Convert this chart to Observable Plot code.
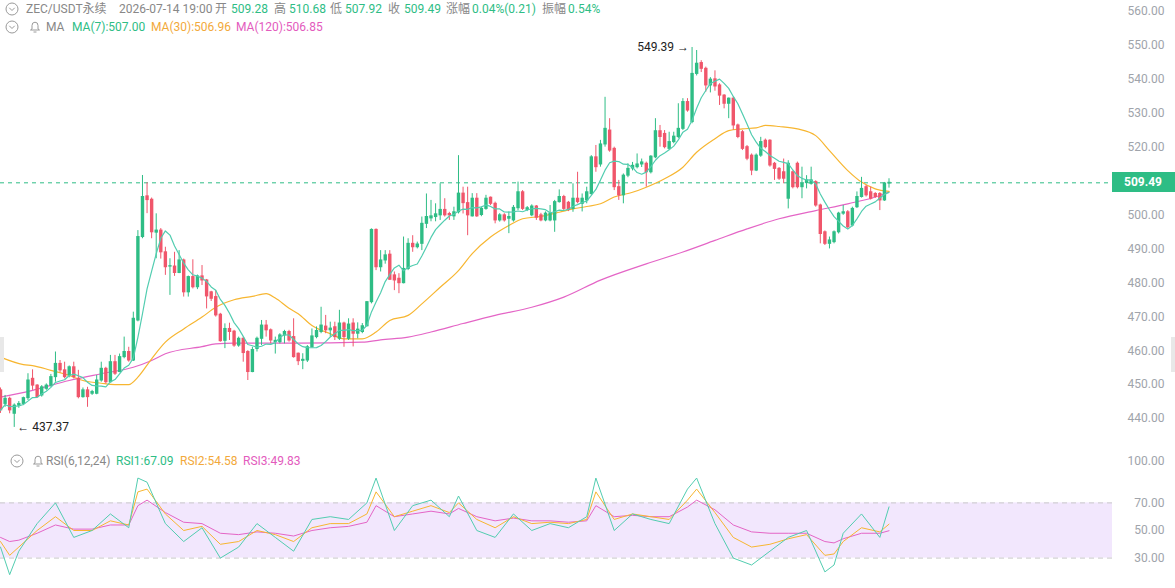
<!DOCTYPE html>
<html><head><meta charset="utf-8">
<script src="https://cdn.jsdelivr.net/npm/d3@7"></script>
<script src="https://cdn.jsdelivr.net/npm/@observablehq/plot@0.6"></script>
<style>
body{margin:0;background:#fff;font-family:Roboto,"Noto Sans CJK SC",sans-serif;}
#wrap{position:relative;width:1175px;height:588px;overflow:hidden;background:#fff;}
.pane{position:absolute;left:0;}
.t{position:absolute;font-size:12px;line-height:14px;white-space:nowrap;color:#888;}
.g{color:#2ebd85}.o{color:#f2a93b}.p{color:#e35bbd}
.ic{position:absolute}
</style></head><body>
<div id="wrap">
  <div id="price" class="pane" style="top:0"></div>
  <div id="rsi" class="pane" style="top:445px"></div>
</div>
<script>
// ---------- DATA ----------
const O=[448.3,444.3,445.8,441.4,443.8,444.3,446.0,451.7,449.7,446.8,448.75,449.7,452.2,456.1,454.2,452.7,455.1,451.7,446.3,448.3,447.3,447.3,451.2,454.65,450.7,456.6,453.7,458.1,459.6,457.1,468.9,493.5,505.5,504.5,494.8,495.4,489.0,484.8,484.8,482.9,486.6,477.2,481.7,478.7,481.9,480.7,477.2,475.8,470.6,462.9,466.4,465.6,461.5,463.5,459.6,453.7,460.5,463.5,467.4,466.0,462.5,462.5,464.5,465.5,464.0,459.1,457.0,457.1,461.0,464.0,465.5,467.1,466.0,466.9,463.5,468.0,463.5,468.0,465.0,465.5,467.2,474.3,495.6,484.6,486.6,488.3,482.2,481.2,479.9,484.1,491.5,490.5,491.5,497.4,499.0,499.4,499.9,501.5,500.3,499.6,500.8,506.3,503.5,499.6,504.8,500.0,501.8,505.1,503.3,498.4,499.9,498.9,498.4,502.0,506.7,501.5,499.9,502.5,499.9,498.4,498.4,498.4,503.8,505.3,503.6,501.8,504.8,503.3,504.3,506.2,517.0,514.9,520.8,524.9,519.5,508.2,505.8,511.6,513.7,514.1,514.9,515.1,512.6,517.0,524.7,523.9,519.5,521.5,523.0,525.4,533.3,527.4,541.6,544.8,543.1,538.2,540.0,538.2,535.2,532.8,534.3,526.4,524.4,520.0,517.5,513.1,517.5,521.9,521.9,515.1,513.6,512.6,504.8,512.6,515.1,508.2,509.4,509.2,509.7,502.8,494.9,491.5,492.0,494.9,500.4,500.8,496.9,502.3,505.3,508.2,506.7,506.2,506.2,504.3,509.28];
const H=[449.0,446.8,446.3,444.3,445.0,446.3,453.2,454.35,450.0,449.7,450.2,453.0,459.6,457.1,456.6,455.5,456.6,454.2,449.0,449.2,448.3,452.7,456.6,455.1,458.6,458.6,459.0,464.0,461.0,471.35,495.4,511.65,509.5,505.0,500.35,496.0,490.5,487.1,489.0,489.5,487.0,482.0,486.8,482.3,485.1,481.0,477.5,477.75,471.0,467.9,468.1,466.0,464.0,464.0,460.0,461.0,464.0,468.9,468.9,466.4,464.0,465.0,466.0,466.0,469.4,459.3,459.1,461.5,466.4,467.0,472.8,470.4,468.4,468.4,471.9,468.4,469.4,469.4,468.2,468.0,474.5,495.9,495.9,489.5,489.5,489.5,483.2,482.7,493.5,493.0,493.9,492.0,499.4,506.2,504.3,503.3,509.2,504.8,500.8,502.3,517.5,508.2,508.2,506.3,506.3,502.3,505.8,505.3,503.8,500.4,500.4,500.9,502.8,509.7,507.2,502.5,503.0,502.8,500.5,500.9,502.8,504.3,507.4,505.8,504.0,509.2,512.6,506.2,508.2,517.5,520.5,522.0,534.7,528.4,520.0,510.2,512.1,515.1,515.5,518.0,516.5,515.6,517.5,528.4,526.4,524.9,524.4,524.4,532.8,534.3,534.3,549.39,548.5,545.5,543.6,540.5,542.5,538.7,535.5,534.5,534.8,526.8,524.9,520.5,518.0,518.0,522.9,522.4,522.2,515.5,514.0,516.5,516.0,513.0,515.6,514.1,511.6,514.1,510.1,503.2,495.3,493.5,495.3,500.8,502.8,501.3,502.3,506.8,511.1,508.7,508.2,506.6,506.6,509.6,510.68];
const L=[441.5,443.3,441.4,437.37,443.0,443.8,445.3,448.3,446.0,446.3,448.3,449.2,450.7,453.5,451.7,452.0,451.7,445.8,446.0,443.3,446.8,447.0,450.7,450.2,450.5,452.7,453.5,457.6,456.6,456.8,468.5,493.0,500.4,493.0,487.1,487.0,482.2,476.3,481.9,482.7,475.8,475.8,478.2,478.0,479.2,472.3,474.5,469.9,462.5,460.6,463.0,461.0,461.0,456.6,451.2,453.5,459.6,461.5,464.0,462.0,459.0,462.0,462.0,462.5,457.8,455.6,454.4,456.5,460.8,463.5,465.0,465.0,464.0,463.0,463.0,461.0,463.0,461.1,463.5,465.0,467.0,473.8,483.6,483.2,485.5,480.7,477.7,476.8,479.7,483.6,489.0,490.0,489.5,496.0,498.0,498.0,498.4,499.4,498.4,498.4,500.3,500.3,493.9,499.4,499.3,499.5,501.4,502.8,497.4,497.9,497.9,494.5,497.9,501.3,501.3,501.0,499.5,498.4,498.0,498.0,498.0,494.9,503.5,501.3,501.0,500.8,503.3,500.9,503.3,505.8,512.6,514.1,520.0,518.5,507.2,504.3,503.3,511.0,513.0,513.6,514.0,508.2,512.1,516.6,520.0,519.5,519.0,521.0,522.5,524.9,530.3,526.9,541.0,542.0,536.2,536.0,536.5,532.3,531.3,528.4,525.0,522.5,519.0,516.0,511.6,512.8,517.0,519.5,514.1,510.2,510.2,509.2,501.8,507.7,507.7,504.8,507.7,508.8,502.3,491.5,491.0,490.0,491.5,494.4,499.9,496.0,496.5,501.9,505.0,505.3,504.4,504.9,501.3,504.0,507.92];
const C=[442.4,445.8,442.4,443.8,444.3,446.0,451.2,449.7,446.3,449.2,449.7,452.2,456.1,454.2,452.2,455.1,452.2,446.3,448.3,446.3,447.8,451.2,454.65,450.7,456.6,453.2,458.1,459.6,457.1,469.4,493.5,505.3,504.4,494.9,495.4,489.0,484.6,484.9,482.9,486.6,477.2,481.7,478.7,481.9,480.7,476.0,475.3,470.4,462.8,466.4,465.5,461.5,463.5,459.3,453.7,460.2,463.5,467.4,466.0,463.0,462.9,464.5,465.5,463.0,458.1,456.9,457.3,461.0,464.2,465.8,467.4,466.0,466.5,464.0,468.0,464.0,467.7,465.0,466.2,467.2,474.3,495.6,484.6,486.6,488.1,480.9,480.7,479.9,484.1,491.5,490.5,491.3,497.4,499.4,499.6,500.2,501.5,499.9,499.9,500.8,506.3,503.5,499.9,504.8,499.6,501.8,504.8,503.3,498.4,499.9,498.4,499.4,502.1,506.7,501.8,502.0,502.5,499.2,498.4,500.4,500.4,503.8,505.3,501.8,501.5,504.8,503.8,504.8,506.7,517.0,514.1,520.8,525.4,519.0,508.2,505.8,511.6,513.6,514.5,514.9,515.5,512.6,517.2,524.7,523.0,520.0,521.5,523.1,525.4,533.3,530.8,541.6,544.6,543.1,538.2,539.9,537.9,535.2,532.8,534.3,526.4,523.0,519.5,516.6,513.1,517.5,521.5,520.0,514.6,513.6,510.7,510.7,515.1,508.2,508.2,509.2,510.2,510.2,502.8,494.4,491.5,492.5,494.9,500.4,500.8,496.4,501.8,505.3,507.7,505.8,504.8,505.3,504.3,509.28,509.49];

const ma30Idx=[0,5,7,11,15,18,22,25,28,30,33,36,40,44,47,51,55,58,60,63,65,68,72,75,79,82,85,89,92,96,100,103,107,111,114,118,122,125,128,131,134,138,141,145,149,152,156,159,162,165,167,170,174,178,181,185,188,191,194];
const ma30Val=[458.1,455.9,455.6,454.2,452.7,451.2,450.4,450.0,450.0,452.2,457.6,462.5,466.4,469.9,472.8,475.0,476.0,476.8,475.5,472.5,470.9,467.4,465.0,463.5,463.5,465.5,468.9,470.4,473.8,478.7,483.6,488.6,493.5,496.9,498.9,499.6,500.8,501.8,502.5,503.3,505.3,506.7,508.2,510.7,514.1,518.5,522.5,524.9,525.4,525.7,526.4,526.1,525.4,523.4,519.0,513.1,509.7,507.7,506.96];
const ma120Idx=[0,7,15,22,29,33,36,44,47,51,58,65,79,83,89,94,101,108,116,123,131,141,149,156,163,170,178,185,192,194];
const ma120Val=[446.3,448.3,451.2,453.2,455.1,457.1,459.1,461.2,462.0,462.2,462.2,462.2,462.5,463.2,464.0,465.5,468.0,470.4,472.8,475.8,480.8,485.6,489.1,492.5,495.9,498.9,501.3,503.3,505.75,506.85];

const rsiIdx=[0,2,4,8,12,16,20,24,28,30,32,36,40,44,48,52,56,60,64,68,72,76,80,82,86,90,94,98,100,104,108,112,116,120,124,128,130,134,138,142,146,150,152,156,160,164,168,172,176,180,182,184,188,192,194];
const rsi1=[38,18,35,55,70,45,50,62,52,88,85,55,42,52,30,38,55,45,35,58,60,58,70,88,50,68,72,60,75,50,45,62,50,55,52,60,88,50,62,58,55,80,88,55,30,25,35,45,50,20,25,48,62,45,67.09];
const rsi2=[42,32,38,50,60,50,50,57,54,78,80,62,50,53,40,42,50,47,42,52,55,55,62,78,60,64,68,63,70,58,52,60,55,56,55,58,78,58,62,60,58,72,80,63,45,38,40,44,47,32,33,42,52,49,54.58];
const rsi3=[45,42,43,48,54,51,51,54,54,68,72,63,56,55,48,47,49,48,46,50,52,53,56,68,60,62,64,62,66,60,57,59,57,57,56,57,68,60,61,60,60,67,72,65,54,49,48,48,48,42,41,44,48,48,49.83];

const priceTicks=[440,450,460,470,480,490,500,520,530,540,550,560];
const rsiTicks=[30,50,70,100];
const rsiBand=[30,70];
const lastPrice=509.49;
const peak={i:151,v:549.39}, trough={i:3,v:437.37};

// ---------- BUILD ----------
const GREEN="#2ebd85", RED="#f0566b", MA7C="#52cdb0", MA30C="#f7b631", MA120C="#e465c6";
const candles=C.map((c,i)=>({i,o:O[i],h:H[i],l:L[i],c,col:c>=O[i]?GREEN:RED}));
const ma30=ma30Idx.map((i,k)=>({i,v:ma30Val[k]}));
const ma120=ma120Idx.map((i,k)=>({i,v:ma120Val[k]}));
const rsiRows=rsiIdx.map((i,k)=>({i,r1:rsi1[k],r2:rsi2[k],r3:rsi3[k]}));
const XD=[0,242.8];

const pricePlot=Plot.plot({
  width:1175,height:445,marginTop:11,marginBottom:27,marginLeft:0,marginRight:63,
  x:{domain:XD,axis:null},
  y:{domain:[440,560],axis:null},
  color:{type:"identity"},
  style:{background:"transparent",fontFamily:"Roboto, sans-serif",overflow:"visible"},
  marks:[
    Plot.axisY(priceTicks,{anchor:"right",tickSize:0,tickPadding:52,textAnchor:"end",tickFormat:d3.format(".2f"),fill:"#a0a4ab",fontSize:12,label:null}),
    Plot.ruleY([lastPrice],{stroke:GREEN,strokeDasharray:"4,4",strokeWidth:1}),
    Plot.line(ma120,{x:"i",y:"v",curve:"monotone-x",stroke:MA120C,strokeWidth:1.2}),
    Plot.line(ma30,{x:"i",y:"v",curve:"monotone-x",stroke:MA30C,strokeWidth:1.2}),
    Plot.ruleX(candles,{x:"i",y1:"l",y2:"h",stroke:"col",strokeWidth:1}),
    Plot.ruleX(candles,{x:"i",y1:d=>Math.min(d.o,d.c)-0.15,y2:d=>Math.max(d.o,d.c)+0.15,stroke:"col",strokeWidth:3.4}),
    Plot.lineY(candles,Plot.windowY({k:7,anchor:"end",strict:false},{x:"i",y:"c",stroke:MA7C,strokeWidth:1.2})),
    Plot.text([peak],{x:"i",y:"v",text:d=>d.v.toFixed(2)+" →",textAnchor:"end",dx:-3,fontSize:12,fill:"#222"}),
    Plot.text([trough],{x:"i",y:"v",text:d=>"← "+d.v.toFixed(2),textAnchor:"start",dx:3,fontSize:12,fill:"#222"})
  ]
});
document.getElementById("price").appendChild(pricePlot);

const rsiPlot=Plot.plot({
  width:1175,height:143,marginTop:0,marginBottom:0,marginLeft:0,marginRight:63,
  x:{domain:XD,axis:null},
  y:{domain:[0,100],range:[154,16],axis:null},
  style:{background:"transparent",fontFamily:"Roboto, sans-serif"},
  marks:[
    Plot.rect([rsiBand],{y1:d=>d[0],y2:d=>d[1],fill:"#f2e7fd"}),
    Plot.ruleY(rsiBand,{stroke:"#c9c9c9",strokeDasharray:"5,4"}),
    Plot.axisY(rsiTicks,{anchor:"right",tickSize:0,tickPadding:52,textAnchor:"end",tickFormat:d3.format(".2f"),fill:"#a0a4ab",fontSize:12,label:null}),
    Plot.line(rsiRows,{x:"i",y:"r3",stroke:MA120C,strokeWidth:1}),
    Plot.line(rsiRows,{x:"i",y:"r2",stroke:MA30C,strokeWidth:1}),
    Plot.line(rsiRows,{x:"i",y:"r1",stroke:MA7C,strokeWidth:1})
  ]
});
document.getElementById("rsi").appendChild(rsiPlot);

// ---------- HEADER / OVERLAYS ----------
const wrap=document.getElementById("wrap");
function add(html,left,top,cls){const d=document.createElement("div");d.className="t "+(cls||"");d.style.left=left+"px";d.style.top=top+"px";d.innerHTML=html;wrap.appendChild(d);return d;}
function chevron(cx,cy){const s=document.createElementNS("http://www.w3.org/2000/svg","svg");s.setAttribute("width",14);s.setAttribute("height",14);s.setAttribute("class","ic");s.style.left=(cx-7)+"px";s.style.top=(cy-7)+"px";s.innerHTML='<circle cx="7" cy="7" r="6" fill="none" stroke="#9a9a9a" stroke-width="1"/><polyline points="4.3,5.8 7,8.5 9.7,5.8" fill="none" stroke="#9a9a9a" stroke-width="1"/>';wrap.appendChild(s);}
function bell(cx,cy){const s=document.createElementNS("http://www.w3.org/2000/svg","svg");s.setAttribute("width",12);s.setAttribute("height",13);s.setAttribute("class","ic");s.style.left=(cx-6)+"px";s.style.top=(cy-7)+"px";s.innerHTML='<path d="M3,9 L3,5.5 A3,3.3 0 0 1 9,5.5 L9,9 L10.5,10 L1.5,10 Z" fill="none" stroke="#9a9a9a" stroke-width="1"/><line x1="4.5" y1="12" x2="7.5" y2="12" stroke="#9a9a9a"/>';wrap.appendChild(s);}
chevron(12,9); chevron(12,27); chevron(17,461);
bell(35,27); bell(38,461);
const y1=2;
add("ZEC/USDT永续",26,y1); add("2026-07-14 19:00",119,y1);
add("开",215,y1); add("509.28",231,y1,"g");
add("高",274,y1); add("510.68",289,y1,"g");
add("低",330,y1); add("507.92",345,y1,"g");
add("收",388,y1); add("509.49",404,y1,"g");
add("涨幅",446,y1); add("0.04%(0.21)",472,y1,"g");
add("振幅",542,y1); add("0.54%",568,y1,"g");
add("MA",46,20); add("MA(7):507.00",72,20,"g"); add("MA(30):506.96",151,20,"o"); add("MA(120):506.85",236,20,"p");
add("RSI(6,12,24)",46,454); add("RSI1:67.09",116,454,"g"); add("RSI2:54.58",180,454,"o"); add("RSI3:49.83",243,454,"p");
// price tag via the price scale
const ty=pricePlot.scale("y").apply(lastPrice);
const tag=add(lastPrice.toFixed(2),1112,ty-10);
Object.assign(tag.style,{width:"63px",height:"20px",lineHeight:"20px",background:GREEN,color:"#fff",fontWeight:"bold",paddingLeft:"12px",boxSizing:"border-box"});
// side handles
const lt=document.createElement("div");Object.assign(lt.style,{position:"absolute",left:"0",top:"337px",width:"4px",height:"35px",background:"#e8e8e8"});wrap.appendChild(lt);
const rt=document.createElement("div");Object.assign(rt.style,{position:"absolute",left:"1171px",top:"337px",width:"4px",height:"35px",background:"#e8e8e8"});wrap.appendChild(rt);
</script>
</body></html>
